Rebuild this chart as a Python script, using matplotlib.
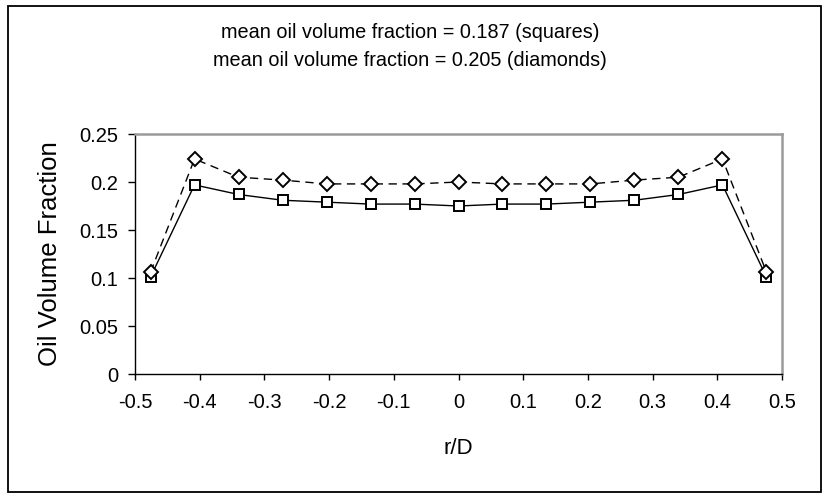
import matplotlib
matplotlib.use("Agg")
import matplotlib.pyplot as plt
from matplotlib.patches import Rectangle

plt.rcParams['font.family'] = ['Liberation Sans', 'DejaVu Sans']

r_over_d = [-0.476, -0.408, -0.340, -0.272, -0.204, -0.136, -0.068, 0.0,
            0.068, 0.136, 0.204, 0.272, 0.340, 0.408, 0.476]
squares = [0.101, 0.197, 0.187, 0.181, 0.179, 0.177, 0.177, 0.175,
           0.177, 0.177, 0.179, 0.181, 0.187, 0.197, 0.101]
diamonds = [0.106, 0.224, 0.205, 0.202, 0.198, 0.198, 0.198, 0.200,
            0.198, 0.198, 0.198, 0.202, 0.205, 0.224, 0.106]
x_ticks = [-0.5, -0.4, -0.3, -0.2, -0.1, 0, 0.1, 0.2, 0.3, 0.4, 0.5]
x_tick_labels = ['-0.5', '-0.4', '-0.3', '-0.2', '-0.1', '0', '0.1', '0.2', '0.3', '0.4', '0.5']
y_ticks = [0, 0.05, 0.1, 0.15, 0.2, 0.25]
y_tick_labels = ['0', '0.05', '0.1', '0.15', '0.2', '0.25']
note_lines = ['mean oil volume fraction = 0.187 (squares)',
              'mean oil volume fraction = 0.205 (diamonds)']

W, H = 823, 494
fig = plt.figure(figsize=(W / 100, H / 100), dpi=100)
ax = fig.add_axes([135 / W, 1 - 374 / H, (782 - 135) / W, (374 - 134) / H])

ax.plot(r_over_d, squares, color='black', linewidth=1.0, marker='s',
        markersize=7.5, markerfacecolor='white', markeredgecolor='black',
        markeredgewidth=1.4, zorder=3)
ax.plot(r_over_d, diamonds, color='black', linewidth=1.0, dashes=(6, 4), marker='D',
        markersize=6.8, markerfacecolor='white', markeredgecolor='black',
        markeredgewidth=1.4, zorder=3)

ax.set_xlim(-0.5, 0.5)
ax.set_ylim(0, 0.25)
ax.set_xticks(x_ticks)
ax.set_xticklabels(x_tick_labels)
ax.set_yticks(y_ticks)
ax.set_yticklabels(y_tick_labels)
ax.tick_params(axis='x', direction='out', length=4.5, width=1, pad=9, labelsize=14.5, colors='black')
ax.tick_params(axis='y', direction='out', length=5, width=1, pad=7, labelsize=14.5, colors='black')

for s in ['left', 'bottom']:
    ax.spines[s].set_color('black')
    ax.spines[s].set_linewidth(1.0)
for s in ['top', 'right']:
    ax.spines[s].set_color('#9a9a9a')
    ax.spines[s].set_linewidth(1.8)

ax.set_xlabel('r/D', fontsize=16)
ax.set_ylabel('Oil Volume Fraction', fontsize=18.5)
ax.xaxis.set_label_coords(0.5, (374 - 448) / 240, transform=ax.transAxes)
ax.yaxis.set_label_coords((50 - 135) / 647, 0.5, transform=ax.transAxes)
ax.xaxis.label.set_va('center')
ax.yaxis.label.set_va('center')

fig.text(410 / W, 1 - 32 / H, note_lines[0], ha='center', va='center', fontsize=14.3)
fig.text(410 / W, 1 - 61 / H, note_lines[1], ha='center', va='center', fontsize=14.3)

fig.patches.append(Rectangle((8 / W, 1 - 492 / H), (821 - 8) / W, (492 - 6) / H,
                             transform=fig.transFigure, fill=False,
                             edgecolor='black', linewidth=1.3))

fig.savefig('out.png', dpi=100)
